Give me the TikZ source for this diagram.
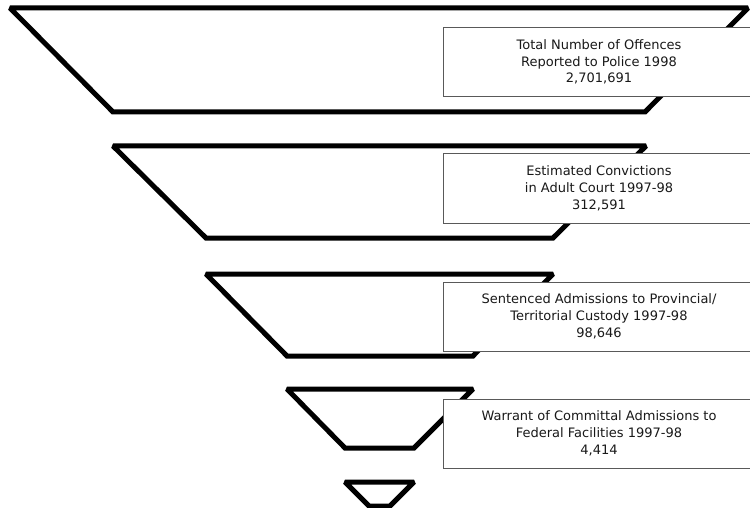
\documentclass[tikz,border=0pt]{standalone}
\usepackage{fontspec}
\setmainfont{DejaVu Sans}
\begin{document}
\begin{tikzpicture}[x=1pt,y=-1pt,
  funnel/.style={draw=black, line width=5pt, line join=miter, miter limit=1.6},
  stagebox/.style={draw=black!65, line width=1pt, fill=white, rectangle,
    minimum width=312pt, minimum height=69pt, inner sep=0pt, align=center,
    text=black!90, font=\fontsize{13}{16.7}\selectfont}]
\useasboundingbox (0,0) rectangle (750,508);
% funnel levels
\draw[funnel] (10,8) -- (748,8) -- (645,112) -- (113,112) -- cycle;
\draw[funnel] (113,146) -- (646,146) -- (553,238) -- (206,238) -- cycle;
\draw[funnel] (206,274) -- (553,274) -- (473,356) -- (287,356) -- cycle;
\draw[funnel] (287,389) -- (473,389) -- (414,448) -- (345,448) -- cycle;
\draw[funnel] (345,482) -- (414,482) -- (390,506) -- (369,506) -- cycle;
% labels
\node[stagebox] (b1) at (599,62) {Total Number of Offences\\Reported to Police 1998\\2,701,691};
\node[stagebox] (b2) at (599,188.5) {Estimated Convictions\\in Adult Court 1997-98\\312,591};
\node[stagebox] (b3) at (599,316.5) {Sentenced Admissions to Provincial/\\Territorial Custody 1997-98\\98,646};
\node[stagebox] (b4) at (599,433.5) {Warrant of Committal Admissions to\\Federal Facilities 1997-98\\4,414};
\end{tikzpicture}
\end{document}
